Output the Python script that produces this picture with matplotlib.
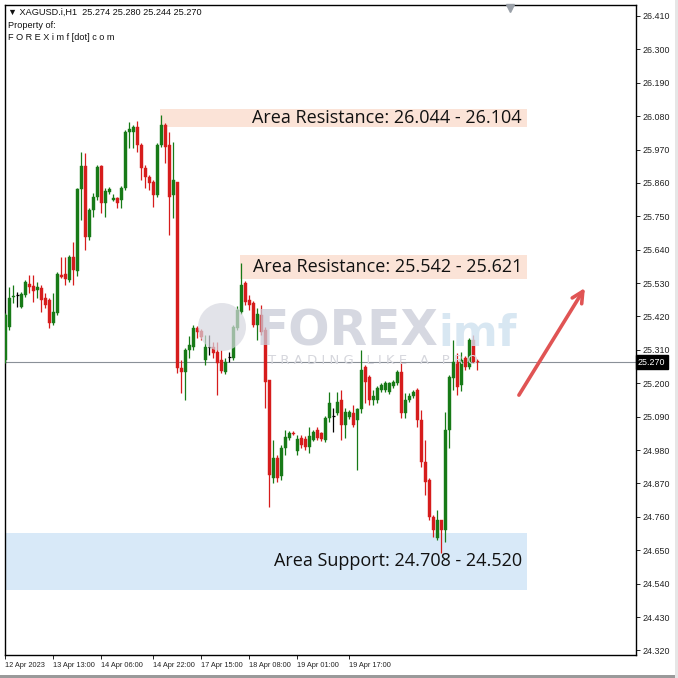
import matplotlib
matplotlib.use("Agg")
import matplotlib.pyplot as plt
from matplotlib.patches import Rectangle, Circle

# H1 candles, XAGUSD.i
opens = [25.277, 25.386, 25.485, 25.491, 25.452, 25.491, 25.527, 25.520, 25.508, 25.514,
         25.482, 25.475, 25.399, 25.432, 25.557, 25.560, 25.540, 25.616, 25.570, 25.840,
         25.916, 25.682, 25.771, 25.814, 25.916, 25.794, 25.830, 25.804, 25.811, 25.804,
         25.844, 26.028, 26.028, 26.044, 25.985, 25.910, 25.880, 25.863, 25.821, 25.985,
         26.051, 25.985, 25.821, 25.863, 25.250, 25.237, 25.310, 25.320, 25.383, 25.373,
         25.277, 25.320, 25.320, 25.303, 25.277, 25.237, 25.287, 25.283, 25.383, 25.435,
         25.530, 25.475, 25.465, 25.393, 25.426, 25.376, 25.211, 24.888, 24.954, 24.895,
         24.987, 25.020, 25.036, 24.977, 25.020, 25.016, 24.990, 25.013, 25.046, 25.036,
         25.013, 25.086, 25.092, 25.102, 25.145, 25.063, 25.089, 25.102, 25.079, 25.115,
         25.254, 25.221, 25.145, 25.145, 25.178, 25.178, 25.171, 25.191, 25.201, 25.237,
         25.102, 25.145, 25.158, 25.178, 25.079, 24.941, 24.882, 24.760, 24.690, 24.750,
         24.717, 25.046, 25.217, 25.270, 25.194, 25.283, 25.254, 25.343, 25.274]
highs = [25.432, 25.517, 25.524, 25.501, 25.501, 25.540, 25.557, 25.557, 25.534, 25.524,
         25.498, 25.482, 25.498, 25.567, 25.616, 25.616, 25.622, 25.665, 25.844, 25.962,
         25.959, 25.778, 25.827, 25.919, 25.919, 25.844, 25.847, 25.824, 25.814, 25.850,
         26.034, 26.061, 26.051, 26.064, 25.992, 25.919, 25.886, 25.870, 25.992, 26.084,
         26.058, 26.028, 25.995, 25.863, 25.277, 25.316, 25.356, 25.393, 25.389, 25.379,
         25.359, 25.359, 25.336, 25.336, 25.310, 25.283, 25.303, 25.393, 25.455, 25.596,
         25.537, 25.491, 25.472, 25.449, 25.459, 25.386, 25.211, 25.013, 24.964, 24.997,
         25.046, 25.043, 25.043, 25.030, 25.030, 25.026, 25.056, 25.046, 25.056, 25.039,
         25.092, 25.171, 25.119, 25.171, 25.178, 25.119, 25.112, 25.128, 25.119, 25.310,
         25.260, 25.227, 25.178, 25.191, 25.201, 25.207, 25.204, 25.211, 25.244, 25.270,
         25.168, 25.168, 25.178, 25.184, 25.112, 25.013, 24.888, 24.767, 24.783, 24.743,
         25.105, 25.227, 25.343, 25.300, 25.303, 25.290, 25.349, 25.359, 25.280]
lows = [25.267, 25.376, 25.465, 25.452, 25.449, 25.485, 25.498, 25.468, 25.482, 25.435,
        25.449, 25.383, 25.393, 25.426, 25.547, 25.524, 25.534, 25.524, 25.553, 25.738,
        25.639, 25.672, 25.748, 25.804, 25.761, 25.748, 25.824, 25.801, 25.778, 25.778,
        25.837, 25.975, 25.975, 25.962, 25.870, 25.844, 25.837, 25.781, 25.814, 25.979,
        25.926, 25.689, 25.745, 25.234, 25.168, 25.145, 25.283, 25.310, 25.350, 25.343,
        25.260, 25.293, 25.283, 25.161, 25.234, 25.231, 25.270, 25.277, 25.376, 25.429,
        25.458, 25.442, 25.386, 25.343, 25.359, 25.119, 24.793, 24.872, 24.875, 24.882,
        24.964, 25.013, 25.030, 24.964, 24.987, 24.980, 24.970, 25.010, 25.013, 25.010,
        25.007, 25.073, 25.040, 25.096, 25.013, 25.020, 25.083, 25.056, 24.915, 25.102,
        25.135, 25.128, 25.128, 25.135, 25.171, 25.171, 25.165, 25.184, 25.194, 25.086,
        25.086, 25.138, 25.152, 25.056, 24.925, 24.832, 24.750, 24.694, 24.684, 24.641,
        24.677, 24.987, 25.178, 25.161, 25.174, 25.244, 25.247, 25.267, 25.244]
closes = [25.426, 25.482, 25.488, 25.491, 25.495, 25.534, 25.517, 25.504, 25.517, 25.475,
          25.459, 25.399, 25.435, 25.560, 25.550, 25.543, 25.616, 25.573, 25.840, 25.916,
          25.682, 25.771, 25.814, 25.913, 25.794, 25.834, 25.840, 25.811, 25.794, 25.844,
          26.028, 26.038, 26.044, 25.985, 25.910, 25.880, 25.860, 25.821, 25.985, 26.051,
          25.979, 25.814, 25.870, 25.250, 25.237, 25.310, 25.326, 25.383, 25.369, 25.353,
          25.320, 25.320, 25.300, 25.267, 25.241, 25.270, 25.287, 25.386, 25.442, 25.524,
          25.468, 25.459, 25.393, 25.429, 25.369, 25.205, 24.898, 24.954, 24.888, 24.987,
          25.023, 25.036, 25.033, 25.016, 24.997, 24.990, 25.026, 25.039, 25.020, 25.016,
          25.086, 25.135, 25.092, 25.138, 25.063, 25.105, 25.105, 25.063, 25.115, 25.244,
          25.205, 25.145, 25.158, 25.184, 25.194, 25.201, 25.201, 25.204, 25.237, 25.102,
          25.145, 25.158, 25.171, 25.079, 24.941, 24.875, 24.760, 24.717, 24.750, 24.717,
          25.046, 25.221, 25.270, 25.188, 25.277, 25.254, 25.343, 25.270, 25.270]

price_ticks = [26.410, 26.300, 26.190, 26.080, 25.970, 25.860, 25.750, 25.640, 25.530, 25.420,
               25.310, 25.200, 25.090, 24.980, 24.870, 24.760, 24.650, 24.540, 24.430, 24.320]
date_bars = [0, 12, 24, 37, 49, 61, 73, 86]
date_labels = ["12 Apr 2023", "13 Apr 13:00", "14 Apr 06:00", "14 Apr 22:00",
               "17 Apr 15:00", "18 Apr 08:00", "19 Apr 01:00", "19 Apr 17:00"]

last_price = 25.270
zones = [  # (start bar, low, high, label, colour)
    (39, 26.044, 26.104, "Area Resistance: 26.044 - 26.104", "#fbe3d7"),
    (59, 25.542, 25.621, "Area Resistance: 25.542 - 25.621", "#fbe3d7"),
    (-1, 24.520, 24.708, "Area Support: 24.708 - 24.520", "#d8e9f8"),
]
zone_end = 130.4

UP = "#177a17"
DOWN = "#d61c1c"
AXFONT = "Liberation Sans"

W = 678
fig = plt.figure(figsize=(6.78, 6.78), dpi=100)
ax = fig.add_axes([5 / W, 1 - 655 / W, 631 / W, 650 / W])
ax.set_xlim(-0.075, 157.675)
ax.set_ylim(24.305, 26.446)

# zones
for start, lo, hi, txt, col in zones:
    ax.add_patch(Rectangle((start - 0.35, lo), zone_end - start + 0.35, hi - lo,
                           facecolor=col, edgecolor="none", zorder=0))
    ax.text(zone_end - 1.2, (lo + hi) / 2, txt, ha="right", va="center",
            fontsize=13, family="Open Sans", color="#111111", zorder=5)

# watermark
fig.text(255 / W, 1 - 346 / W, "FOREX", fontsize=35, fontweight="bold",
         family="DejaVu Sans", color="#c9cbd7", alpha=0.75, zorder=1)
fig.text(438 / W, 1 - 346 / W, "imf", fontsize=31, fontweight="bold",
         family="DejaVu Sans", color="#cfe1ef", alpha=0.8, zorder=1)
fig.text(268 / W, 1 - 364 / W, "T R A D I N G   L I K E   A   P R O", fontsize=9.5,
         color="#d6d7dd", zorder=1)
fig.patches.append(Circle((222 / W, 1 - 327 / W), 24 / W, transform=fig.transFigure,
                          facecolor="#d7d8e0", edgecolor="none", alpha=0.7, zorder=1))

# current price line
ax.axhline(last_price, color="#8a9098", lw=0.8, zorder=1)

# candles
for i in range(len(opens)):
    o, h, l, c = opens[i], highs[i], lows[i], closes[i]
    if abs(c - o) < 0.0015:
        col = "black"
    elif c > o:
        col = UP
    else:
        col = DOWN
    ax.vlines(i, l, h, color=col, lw=0.9, zorder=3)
    if col == "black":
        ax.hlines(o, i - 0.4, i + 0.4, color=col, lw=0.9, zorder=3)
    else:
        ax.bar(i, abs(c - o), bottom=min(o, c), width=0.72, color=col,
               edgecolor=col, linewidth=0.3, zorder=4)

# arrow
ax.annotate("", xy=(144.9, 25.514), xytext=(128.4, 25.161),
            arrowprops=dict(arrowstyle="->", color="#e05454", lw=2.6,
                            mutation_scale=20, shrinkA=0, shrinkB=0), zorder=6)

# axes
ax.yaxis.tick_right()
ax.set_yticks(price_ticks)
ax.set_yticklabels(["%.3f" % p for p in price_ticks], family=AXFONT, fontsize=6.4)
ax.set_xticks(date_bars)
ax.set_xticklabels(date_labels, family=AXFONT, fontsize=5.3)
for lbl in ax.get_xticklabels():
    lbl.set_ha("left")
ax.tick_params(axis="both", length=3, width=0.7, pad=2, colors="#222222")
for sp in ax.spines.values():
    sp.set_linewidth(1.0)
    sp.set_color("black")

# last price tag
ax.text(1.003, last_price, "%.3f" % last_price, transform=ax.get_yaxis_transform(),
        fontsize=6.4, family=AXFONT, color="white", va="center", ha="left",
        bbox=dict(boxstyle="square,pad=0.25", facecolor="black", edgecolor="black"))

# chart header
fig.text(8 / W, 1 - 12 / W, "\u25bc XAGUSD.i,H1  25.274 25.280 25.244 25.270",
         fontsize=6.6, family=[AXFONT, "DejaVu Sans"], va="center", color="#111111")
fig.text(8 / W, 1 - 25 / W, "Property of:", fontsize=6.6, family=AXFONT,
         va="center", color="#111111")
fig.text(8 / W, 1 - 37 / W, "F O R E X i m f [dot] c o m", fontsize=6.6, family=AXFONT,
         va="center", color="#111111")

# shift marker
ax.plot([0.800], [0.996], marker="v", markersize=6, color="#9aa0a8",
        transform=ax.transAxes, clip_on=False, zorder=7)

# window borders
fig.patches.append(Rectangle((0, 0), 1, 3 / W, transform=fig.transFigure,
                             facecolor="#9a9a9a", edgecolor="none"))
fig.patches.append(Rectangle((1 - 3 / W, 0), 3 / W, 1, transform=fig.transFigure,
                             facecolor="#e6e6e6", edgecolor="none"))

fig.savefig("out.png", dpi=100)
